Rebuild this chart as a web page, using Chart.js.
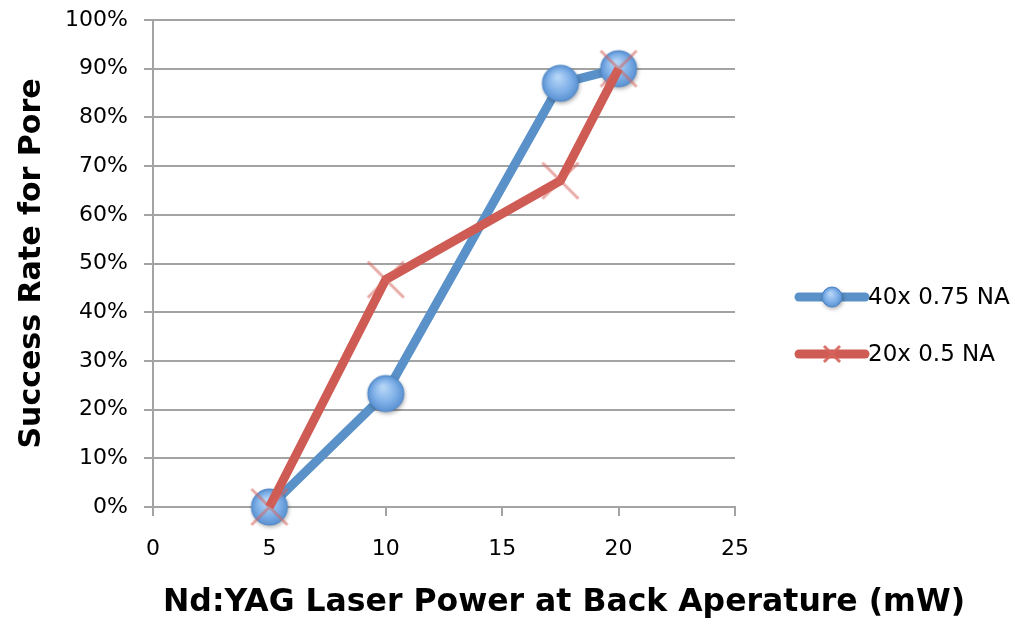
<!DOCTYPE html>
<html>
<head>
<meta charset="utf-8">
<script src="https://cdn.jsdelivr.net/npm/chart.js@4/dist/chart.umd.min.js"></script>
<style>
html,body{margin:0;padding:0;background:#fff;}
#wrap{width:1020px;height:624px;}
</style>
</head>
<body>
<div id="wrap"><canvas id="c" width="1020" height="624"></canvas></div>
<script>
const powerMW = [5, 10, 17.5, 20];
const rate40x = [0, 0.233, 0.87, 0.90];
const rate20x = [0, 0.467, 0.67, 0.90];
const seriesLabels = ['40x 0.75 NA', '20x 0.5 NA'];
const xTitle = 'Nd:YAG Laser Power at Back Aperature (mW)';
const yTitle = 'Success Rate for Pore';

const BLUE = '#5a91c8';
const RED = '#cf5c54';
const GRID = '#a3a3a3';

function makeCircle(d) {
  const pad = 6;
  const c = document.createElement('canvas');
  c.width = d + pad * 2; c.height = d + pad * 2;
  const g = c.getContext('2d');
  const cx = c.width / 2, cy = c.height / 2, r = d / 2;
  g.save();
  g.shadowColor = 'rgba(0,0,0,0.35)';
  g.shadowBlur = 4; g.shadowOffsetX = 1; g.shadowOffsetY = 2;
  g.beginPath(); g.arc(cx, cy, r, 0, Math.PI * 2);
  g.fillStyle = '#5b92d2'; g.fill();
  g.restore();
  const grad = g.createRadialGradient(cx - r * 0.15, cy - r * 0.35, r * 0.1, cx, cy, r);
  grad.addColorStop(0, '#b4d4f6');
  grad.addColorStop(0.6, '#7fb0e8');
  grad.addColorStop(1, '#5b92d2');
  g.beginPath(); g.arc(cx, cy, r, 0, Math.PI * 2);
  g.fillStyle = grad; g.fill();
  g.lineWidth = 1; g.strokeStyle = '#4f86c6'; g.stroke();
  return c;
}
function makeCross(s, lw, alpha) {
  const c = document.createElement('canvas');
  c.width = s; c.height = s;
  const g = c.getContext('2d');
  g.strokeStyle = 'rgba(214,100,92,' + alpha + ')';
  g.lineWidth = lw;
  const p = 2;
  g.beginPath(); g.moveTo(p, p); g.lineTo(s - p, s - p);
  g.moveTo(s - p, p); g.lineTo(p, s - p); g.stroke();
  return c;
}
const bigCircle = makeCircle(36);
const bigCross = makeCross(40, 3, 0.55);
const smallCircle = makeCircle(20);
const smallCross = makeCross(20, 3, 0.9);

const extrasPlugin = {
  id: 'extras',
  afterDraw(chart) {
    const ctx = chart.ctx;
    const ca = chart.chartArea;
    // x-axis title (drawn without width limit)
    ctx.save();
    ctx.fillStyle = '#000';
    ctx.font = 'bold 31.5px "DejaVu Sans"';
    ctx.textAlign = 'center';
    ctx.textBaseline = 'middle';
    ctx.fillText(xTitle, ca.left + 411, chart.height - 21);
    ctx.restore();
    // legend
    const x0 = ca.right + 64, x1 = ca.right + 130;
    const ys = [297, 354];
    const imgs = [smallCircle, smallCross];
    chart.data.datasets.forEach((ds, i) => {
      const y = ys[i];
      ctx.save();
      ctx.strokeStyle = ds.borderColor;
      ctx.lineWidth = 9; ctx.lineCap = 'round';
      ctx.beginPath(); ctx.moveTo(x0, y); ctx.lineTo(x1, y); ctx.stroke();
      const im = imgs[i];
      ctx.drawImage(im, (x0 + x1) / 2 - im.width / 2, y - im.height / 2);
      ctx.fillStyle = '#000';
      ctx.font = '23px "DejaVu Sans"';
      ctx.textBaseline = 'middle';
      ctx.fillText(ds.label, x1 + 3, y + 1);
      ctx.restore();
    });
  }
};

new Chart(document.getElementById('c'), {
  type: 'line',
  data: {
    datasets: [
      {
        label: seriesLabels[0],
        data: powerMW.map((x, i) => ({ x: x, y: rate40x[i] })),
        borderColor: BLUE, borderWidth: 9,
        pointStyle: bigCircle, pointRadius: 18,
        tension: 0, clip: false, order: 2
      },
      {
        label: seriesLabels[1],
        data: powerMW.map((x, i) => ({ x: x, y: rate20x[i] })),
        borderColor: RED, borderWidth: 9,
        pointStyle: bigCross, pointRadius: 18,
        tension: 0, clip: false, order: 1
      }
    ]
  },
  options: {
    responsive: false,
    animation: false,
    layout: { autoPadding: false, padding: { top: 20, right: 285, left: 0, bottom: 0 } },
    plugins: { legend: { display: false }, tooltip: { enabled: false } },
    scales: {
      x: {
        type: 'linear', min: 0, max: 25,
        afterFit(s) { s.height = 117; s.paddingLeft = 0; s.paddingRight = 0; },
        ticks: { stepSize: 5, color: '#000', font: { family: 'DejaVu Sans', size: 22 }, padding: 20 },
        grid: { drawOnChartArea: false, color: GRID, lineWidth: 2, tickLength: 9 },
        border: { color: GRID, width: 2 },
        title: { display: false }
      },
      y: {
        min: 0, max: 1,
        afterFit(s) { s.width = 153; s.paddingTop = 0; s.paddingBottom = 0; },
        ticks: { stepSize: 0.1, color: '#000', font: { family: 'DejaVu Sans', size: 22 }, padding: 16,
          callback: v => Math.round(v * 100) + '%' },
        grid: { color: GRID, lineWidth: 2, tickLength: 9 },
        border: { color: GRID, width: 2 },
        title: { display: true, text: yTitle, color: '#000', font: { family: 'DejaVu Sans', size: 30, weight: 'bold' }, padding: { top: 14, bottom: 0 } }
      }
    }
  },
  plugins: [extrasPlugin]
});
</script>
</body>
</html>
